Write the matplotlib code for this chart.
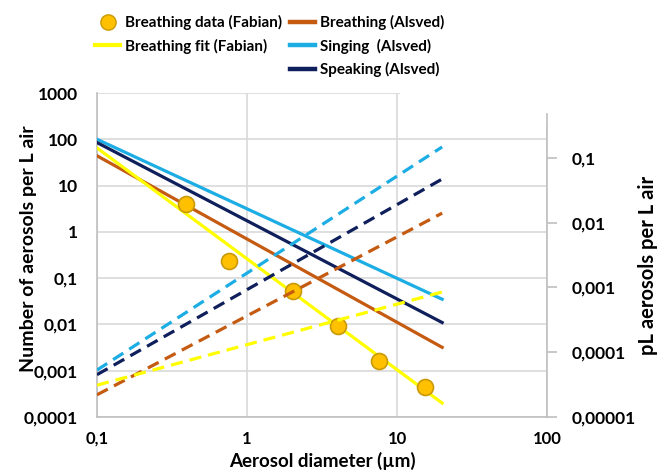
import numpy as np
import matplotlib.pyplot as plt
from matplotlib.lines import Line2D
from matplotlib.patches import Rectangle
from matplotlib.ticker import FixedLocator, FuncFormatter, NullLocator

plt.rcParams['font.family'] = ['Lato', 'DejaVu Sans']
plt.rcParams['font.weight'] = 'bold'

# Fabian breathing measurements
fabian_d = [0.39, 0.76, 2.03, 4.04, 7.6, 15.4]
fabian_n = [4.0, 0.23, 0.052, 0.0093, 0.0016, 0.00045]

# fitted / reported power laws, end points (diameter in µm)
fit_d = [0.1, 20]
fabian_fit = [65, 0.0002]
alsved_breathing = [44, 0.0032]
alsved_singing = [100, 0.035]
alsved_speaking = [85, 0.011]

# volume equivalents (pL per L air), right axis
fabian_fit_pl = [3.1e-5, 8.5e-4]
alsved_breathing_pl = [2.2e-5, 0.014]
alsved_singing_pl = [5.3e-5, 0.147]
alsved_speaking_pl = [4.5e-5, 0.047]

YELLOW = '#FFFF00'
BROWN = '#C55A11'
LBLUE = '#1CADE4'
NAVY = '#0E1F5B'
GRID = '#D9D9D9'
SPINE = '#BFBFBF'


def comma(v, pos=None):
    return np.format_float_positional(v, trim='-').replace('.', ',')


fig = plt.figure(figsize=(6.7, 4.76), dpi=100)
ax = fig.add_axes([97 / 670, 1 - 417 / 476, 450 / 670, 324 / 476])
ax.set_xscale('log')
ax.set_yscale('log')
ax.set_xlim(0.1, 100)
ax.set_ylim(1e-4, 1000)

ax.xaxis.set_major_locator(FixedLocator([0.1, 1, 10, 100]))
ax.yaxis.set_major_locator(FixedLocator([1e-4, 1e-3, 1e-2, 0.1, 1, 10, 100, 1000]))
ax.xaxis.set_minor_locator(NullLocator())
ax.yaxis.set_minor_locator(NullLocator())
ax.xaxis.set_major_formatter(FuncFormatter(comma))
ax.yaxis.set_major_formatter(FuncFormatter(comma))
ax.tick_params(axis='y', length=0, labelsize=12.5, pad=14)
ax.tick_params(axis='x', length=0, labelsize=12, pad=10)
ax.grid(True, color=GRID, lw=1.2)
ax.set_axisbelow(True)
for s in ['top', 'right']:
    ax.spines[s].set_visible(False)
for s in ['left', 'bottom']:
    ax.spines[s].set_color(SPINE)
    ax.spines[s].set_linewidth(1.2)

lw = 2.3
ax.plot(fit_d, alsved_singing, color=LBLUE, lw=lw, zorder=3)
ax.plot(fit_d, alsved_speaking, color=NAVY, lw=lw, zorder=3)
ax.plot(fit_d, alsved_breathing, color=BROWN, lw=lw, zorder=3)
ax.plot(fit_d, fabian_fit, color=YELLOW, lw=lw, zorder=3)
ax.plot(fabian_d, fabian_n, 'o', ms=11.5, mfc='#FFC000', mec='#C99A06',
        mew=1.2, zorder=5)

ax.set_xlabel('Aerosol diameter (µm)', fontsize=13.5, fontweight='bold')
ax.xaxis.set_label_coords(0.5, -0.108)
ax.set_ylabel('Number of aerosols per L air', fontsize=14, fontweight='bold')
ax.yaxis.set_label_coords(-0.133, 0.52)

ax2 = ax.twinx()
ax2.set_yscale('log')
ax2.set_ylim(1e-5, 1)
ax2.yaxis.set_major_locator(FixedLocator([1e-5, 1e-4, 1e-3, 1e-2, 0.1]))
ax2.yaxis.set_minor_locator(NullLocator())
ax2.yaxis.set_major_formatter(FuncFormatter(comma))
ax2.tick_params(axis='y', length=7, width=1.2, color=SPINE, labelsize=12.5, pad=11)
for s in ['top', 'left', 'bottom']:
    ax2.spines[s].set_visible(False)
ax2.spines['right'].set_color(SPINE)
ax2.spines['right'].set_linewidth(1.2)
ax2.spines['right'].set_bounds(1e-5, 0.47)

dash = (0, (3.8, 2.2))
ax2.plot(fit_d, alsved_singing_pl, color=LBLUE, lw=lw, ls=dash)
ax2.plot(fit_d, alsved_speaking_pl, color=NAVY, lw=lw, ls=dash)
ax2.plot(fit_d, alsved_breathing_pl, color=BROWN, lw=lw, ls=dash)
ax2.plot(fit_d, fabian_fit_pl, color=YELLOW, lw=lw, ls=dash)
ax2.set_ylabel('pL aerosols per L air', fontsize=14.5, fontweight='bold')
ax2.yaxis.set_label_coords(1.202, 0.469)

# white patch left by the legend box in the top right corner
ax.add_patch(Rectangle((10.5, 200), 100, 2000, facecolor='white', edgecolor='none',
                       zorder=2.5, clip_on=False))

h1 = [Line2D([], [], ls='none', marker='o', ms=11, mfc='#FFC000', mec='#C99A06'),
      Line2D([], [], color=YELLOW, lw=3)]
l1 = ['Breathing data (Fabian)', 'Breathing fit (Fabian)']
h2 = [Line2D([], [], color=BROWN, lw=3.2),
      Line2D([], [], color=LBLUE, lw=3.2),
      Line2D([], [], color=NAVY, lw=3.2)]
l2 = ['Breathing (Alsved)', 'Singing  (Alsved)', 'Speaking (Alsved)']
kw = dict(frameon=False, fontsize=11, handlelength=1.65, handletextpad=0.3,
          labelspacing=0.56, borderpad=0, borderaxespad=0, loc='upper left')
fig.legend(h1, l1, bbox_to_anchor=(95 / 670, 1 - 15 / 476), **kw)
fig.legend(h2, l2, bbox_to_anchor=(290 / 670, 1 - 15 / 476), **kw)

fig.savefig('out.png', dpi=100)
